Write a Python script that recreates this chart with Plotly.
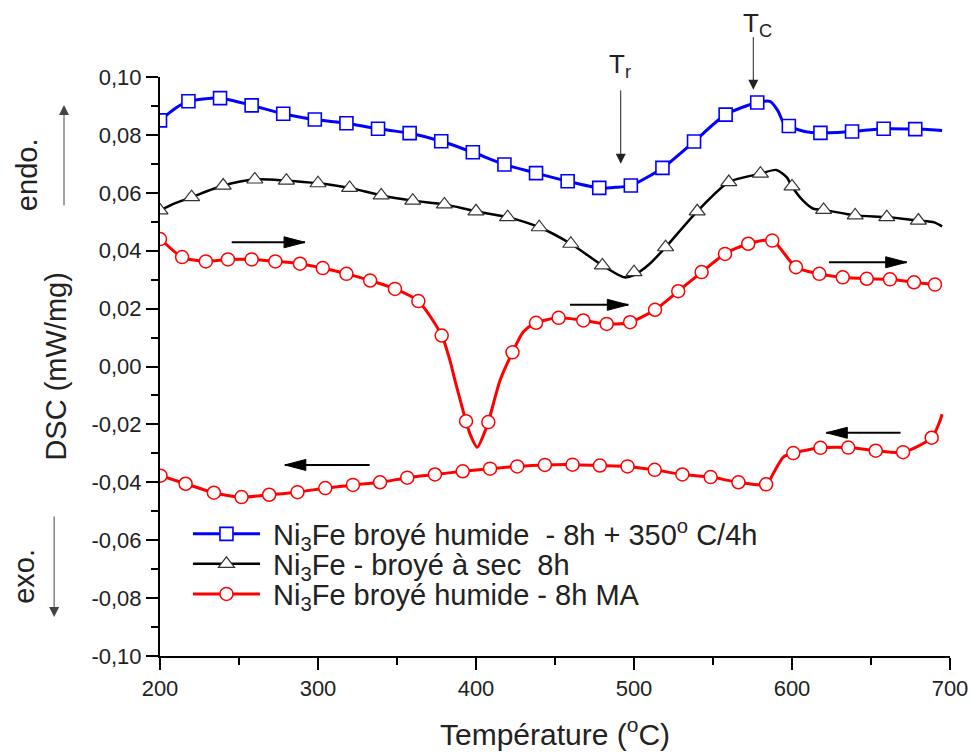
import plotly.graph_objects as go

# ---------------- data ----------------
# Blue: Ni3Fe broyé humide - 8h + 350°C/4h
T_blue_line = [200, 210, 218, 238, 258, 278, 298, 318, 338, 358, 378, 398, 418, 438, 458, 478,
               488, 498, 518, 538, 558, 578, 586, 591, 594.5, 598, 608, 618, 638, 658, 678, 688, 695]
dsc_blue_line = [0.0850, 0.0893, 0.0916, 0.0927, 0.0902, 0.0873, 0.0853, 0.0840, 0.0821, 0.0806,
                 0.0778, 0.0740, 0.0698, 0.0668, 0.0640, 0.0617, 0.0619, 0.0625, 0.0686, 0.0777,
                 0.0870, 0.0912, 0.0916, 0.0884, 0.0844, 0.0831, 0.0812, 0.0807, 0.0812, 0.0821,
                 0.0820, 0.0818, 0.0815]
T_blue_mark = [200, 218, 238, 258, 278, 298, 318, 338, 358, 378, 398, 418, 438, 458, 478, 498,
               518, 538, 558, 578, 598, 618, 638, 658, 678]
dsc_blue_mark = [0.0850, 0.0916, 0.0927, 0.0902, 0.0873, 0.0853, 0.0840, 0.0821, 0.0806, 0.0778,
                 0.0740, 0.0698, 0.0668, 0.0640, 0.0617, 0.0625, 0.0686, 0.0777, 0.0870, 0.0912,
                 0.0831, 0.0807, 0.0812, 0.0821, 0.0820]

# Black: Ni3Fe - broyé à sec 8h
T_black_line = [200, 210, 220, 240, 260, 280, 300, 320, 340, 360, 380, 400, 420, 440, 460, 480,
                494, 500, 510, 520, 540, 560, 580, 590, 596.6, 600, 607, 613.5, 620, 640, 660,
                680, 690, 695]
dsc_black_line = [0.0539, 0.0565, 0.0585, 0.0625, 0.0646, 0.0642, 0.0633, 0.0617, 0.0591, 0.0573,
                  0.0560, 0.0536, 0.0516, 0.0481, 0.0424, 0.0349, 0.0308, 0.0316, 0.0355, 0.0412,
                  0.0536, 0.0637, 0.0666, 0.0679, 0.0654, 0.0622, 0.0573, 0.0545, 0.0541, 0.0522,
                  0.0516, 0.0504, 0.0498, 0.0484]
T_black_mark = [200, 220, 240, 260, 280, 300, 320, 340, 360, 380, 400, 420, 440, 460, 480, 500,
                520, 540, 560, 580, 600, 620, 640, 660, 680]
dsc_black_mark = [0.0539, 0.0585, 0.0625, 0.0646, 0.0642, 0.0633, 0.0617, 0.0591, 0.0573, 0.0560,
                  0.0536, 0.0516, 0.0481, 0.0424, 0.0349, 0.0326, 0.0412, 0.0536, 0.0637, 0.0666,
                  0.0622, 0.0541, 0.0522, 0.0516, 0.0504]

# Red: Ni3Fe broyé humide - 8h MA (heating)
T_red_heat_line = [200, 214, 229, 243, 258, 273, 288.6, 303, 318, 333, 348.7, 363.5, 378.3, 383.5,
                   386.7, 393.7, 396.2, 400.8, 405, 407.8, 415.2, 423.1, 430, 438, 452.3, 467.9,
                   482.7, 497.5, 513.3, 528, 542.8, 557.6, 572.3, 587.5, 602.5, 617.3, 632.1,
                   647.3, 662, 677.2, 690.5, 694]
dsc_red_heat_line = [0.0442, 0.0378, 0.0363, 0.0370, 0.0370, 0.0363, 0.0355, 0.0340, 0.0320, 0.0297,
                     0.0268, 0.0226, 0.0107, 0.0021, -0.0048, -0.0189, -0.0233, -0.0279, -0.0233,
                     -0.0192, -0.0048, 0.0049, 0.0120, 0.0151, 0.0168, 0.0159, 0.0147, 0.0153,
                     0.0196, 0.0260, 0.0326, 0.0389, 0.0424, 0.0435, 0.0343, 0.0320, 0.0308,
                     0.0303, 0.0301, 0.0291, 0.0283, 0.0283]
T_red_heat_mark = [200, 214, 229, 243, 258, 273, 288.6, 303, 318, 333, 348.7, 363.5, 378.3, 393.7,
                   407.8, 423.1, 438, 452.3, 467.9, 482.7, 497.5, 513.3, 528, 542.8, 557.6, 572.3,
                   587.5, 602.5, 617.3, 632.1, 647.3, 662, 677.2, 690.5]
dsc_red_heat_mark = [0.0440, 0.0378, 0.0363, 0.0370, 0.0370, 0.0363, 0.0355, 0.0340, 0.0320, 0.0297,
                     0.0268, 0.0226, 0.0107, -0.0189, -0.0192, 0.0049, 0.0151, 0.0168, 0.0159,
                     0.0147, 0.0153, 0.0196, 0.0260, 0.0326, 0.0389, 0.0424, 0.0435, 0.0343,
                     0.0320, 0.0308, 0.0303, 0.0301, 0.0291, 0.0283]

# Red: cooling branch
T_red_cool_line = [200.3, 216.2, 234.1, 251.6, 269.1, 287, 304.6, 322.1, 339.3, 356.5, 374, 391.6,
                   408.9, 426.1, 443.6, 461.1, 478.4, 495.9, 513.1, 530.6, 548.5, 566.1, 583.6,
                   589.2, 594.5, 600.8, 618, 635.6, 653, 670.3, 688.4, 693.7, 695]
dsc_red_cool_line = [-0.0377, -0.0405, -0.0436, -0.0451, -0.0443, -0.0434, -0.0420, -0.0409,
                     -0.0400, -0.0384, -0.0373, -0.0362, -0.0353, -0.0345, -0.0340, -0.0339,
                     -0.0342, -0.0345, -0.0357, -0.0373, -0.0382, -0.0400, -0.0407, -0.0359,
                     -0.0313, -0.0299, -0.0281, -0.0280, -0.0291, -0.0296, -0.0246, -0.0187, -0.0165]
T_red_cool_mark = [200.3, 216.2, 234.1, 251.6, 269.1, 287, 304.6, 322.1, 339.3, 356.5, 374, 391.6,
                   408.9, 426.1, 443.6, 461.1, 478.4, 495.9, 513.1, 530.6, 548.5, 566.1, 583.6,
                   600.8, 618, 635.6, 653, 670.3, 688.4]
dsc_red_cool_mark = [-0.0377, -0.0405, -0.0436, -0.0451, -0.0443, -0.0434, -0.0420, -0.0409,
                     -0.0400, -0.0384, -0.0373, -0.0362, -0.0353, -0.0345, -0.0340, -0.0339,
                     -0.0342, -0.0345, -0.0357, -0.0373, -0.0382, -0.0400, -0.0407, -0.0299,
                     -0.0281, -0.0280, -0.0291, -0.0296, -0.0246]

series_names = [
    "\u00a0Ni<sub>3</sub>Fe broyé humide\u00a0 - 8h + 350<sup>o</sup> C/4h",
    "\u00a0Ni<sub>3</sub>Fe - broyé à sec\u00a0 8h",
    "\u00a0Ni<sub>3</sub>Fe broyé humide - 8h MA",
]

# direction arrows: tail T, head T, DSC level
arrow_tail_T = [245.4, 459.5, 623.4, 332.7, 668.7]
arrow_head_T = [291.8, 496.4, 672.6, 279.0, 621.7]
arrow_dsc = [0.0429, 0.0213, 0.0360, -0.0340, -0.0229]

# transition markers
trans_labels = ["T<sub>r</sub>", "T<sub>C</sub>"]
trans_T = [491.6, 575.5]
trans_tip = [0.0700, 0.0956]
trans_tail = [0.0959, 0.1143]

x_tickvals = [200, 300, 400, 500, 600, 700]
x_ticktext = ["200", "300", "400", "500", "600", "700"]
y_tickvals = [-0.10, -0.08, -0.06, -0.04, -0.02, 0.00, 0.02, 0.04, 0.06, 0.08, 0.10]
y_ticktext = ["-0,10", "-0,08", "-0,06", "-0,04", "-0,02", "0,00", "0,02", "0,04", "0,06", "0,08", "0,10"]

# ---------------- figure ----------------
FONT = "Arial, 'Liberation Sans', Helvetica, sans-serif"
fig = go.Figure()

styles = [
    dict(color="#0000ff", symbol="square-open", lw=3, msize=13, mline=1.6),
    dict(color="#000000", symbol="triangle-up", lw=2.5, msize=14, mline=1.2),
    dict(color="#ff0000", symbol="circle", lw=3, msize=13, mline=1.5),
]
lines = [
    (T_blue_line, dsc_blue_line, T_blue_mark, dsc_blue_mark, 0),
    (T_black_line, dsc_black_line, T_black_mark, dsc_black_mark, 1),
    (T_red_heat_line, dsc_red_heat_line, T_red_heat_mark, dsc_red_heat_mark, 2),
    (T_red_cool_line, dsc_red_cool_line, T_red_cool_mark, dsc_red_cool_mark, 2),
]

def marker_style(s):
    mc = s["color"]
    if s["symbol"] == "triangle-up":
        return dict(symbol="triangle-up", size=s["msize"], color="white",
                    line=dict(color="#333333", width=s["mline"]))
    if s["symbol"] == "square-open":
        return dict(symbol="square", size=s["msize"], color="white",
                    line=dict(color=mc, width=s["mline"]))
    return dict(symbol="circle", size=s["msize"], color="white",
                line=dict(color=mc, width=s["mline"]))

for tl, dl, tm, dm, si in lines:
    s = styles[si]
    fig.add_trace(go.Scatter(x=tl, y=dl, mode="lines", showlegend=False, hoverinfo="skip",
                             line=dict(color=s["color"], width=s["lw"], shape="spline", smoothing=0.7)))
    fig.add_trace(go.Scatter(x=tm, y=dm, mode="markers", showlegend=False,
                             marker=marker_style(s)))

legend_ids = ["legend", "legend2", "legend3"]
for si, name in enumerate(series_names):
    s = styles[si]
    fig.add_trace(go.Scatter(x=[None], y=[None], mode="lines+markers", name=name,
                             legend=legend_ids[si],
                             line=dict(color=s["color"], width=s["lw"]),
                             marker=marker_style(s)))

shapes = []
for t0, t1, d in zip(arrow_tail_T, arrow_head_T, arrow_dsc):
    sgn = 1 if t1 > t0 else -1
    shapes.append(dict(type="line", xref="x", yref="y", x0=t0, x1=t1, y0=d, y1=d,
                       line=dict(color="black", width=2)))
    shapes.append(dict(type="path", xref="x", yref="y", xsizemode="pixel", ysizemode="pixel",
                       xanchor=t1, yanchor=d,
                       path=f"M0,0 L{-sgn*21},5.5 L{-sgn*21},-5.5 Z",
                       fillcolor="black", line=dict(color="black", width=1)))

annotations = []
for lab, t, tip, tail in zip(trans_labels, trans_T, trans_tip, trans_tail):
    annotations.append(dict(x=t, y=tip, ax=t, ay=tail, xref="x", yref="y", axref="x", ayref="y",
                            text="", showarrow=True, arrowhead=2, arrowsize=2, arrowwidth=1,
                            arrowcolor="#222222"))
# labels above the plot area (paper y so they are not hidden off-axis)
annotations.append(dict(x=trans_T[0] - 0.5, y=1.019, xref="x", yref="paper", text=trans_labels[0],
                        showarrow=False, font=dict(size=26, family=FONT, color="#222"),
                        xanchor="center", yanchor="middle"))
annotations.append(dict(x=trans_T[1] + 2.5, y=1.090, xref="x", yref="paper", text=trans_labels[1],
                        showarrow=False, font=dict(size=26, family=FONT, color="#222"),
                        xanchor="center", yanchor="middle"))

# endo / exo indicators (outside plot area, paper coords)
annotations.append(dict(x=-0.1215, y=0.9517, xref="paper", yref="paper", ax=0, ay=102,
                        text="", showarrow=True, arrowhead=2, arrowsize=2, arrowwidth=1,
                        arrowcolor="#444444"))
annotations.append(dict(x=-0.134, y=0.0674, xref="paper", yref="paper", ax=0, ay=-102,
                        text="", showarrow=True, arrowhead=2, arrowsize=2, arrowwidth=1,
                        arrowcolor="#444444"))
annotations.append(dict(x=-0.168, y=0.831, xref="paper", yref="paper", text="endo.",
                        textangle=-90, showarrow=False, font=dict(size=29, family=FONT, color="#222"),
                        xanchor="center", yanchor="middle"))
annotations.append(dict(x=-0.172, y=0.137, xref="paper", yref="paper", text="exo.",
                        textangle=-90, showarrow=False, font=dict(size=29, family=FONT, color="#222"),
                        xanchor="center", yanchor="middle"))
annotations.append(dict(x=-0.131, y=0.499, xref="paper", yref="paper", text="DSC (mW/mg)",
                        textangle=-90, showarrow=False, font=dict(size=29, family=FONT, color="#222"),
                        xanchor="center", yanchor="middle"))
annotations.append(dict(x=0.5, y=-0.132, xref="paper", yref="paper", text="Température (<sup>o</sup>C)",
                        showarrow=False, font=dict(size=30, family=FONT, color="#222"),
                        xanchor="center", yanchor="middle"))

legend_common = dict(x=0.0354, xanchor="left", yanchor="middle", bgcolor="rgba(0,0,0,0)",
                     font=dict(size=29, family=FONT, color="#222"), itemwidth=67)

fig.update_layout(
    width=971, height=753, autosize=False,
    margin=dict(l=160, r=21, t=77, b=97),
    paper_bgcolor="white", plot_bgcolor="white",
    font=dict(family=FONT, color="#222", size=22),
    shapes=shapes, annotations=annotations,
    legend=dict(y=0.2107, **legend_common),
    legend2=dict(y=0.1590, **legend_common),
    legend3=dict(y=0.1070, **legend_common),
    xaxis=dict(range=[200, 700], tickvals=x_tickvals, ticktext=x_ticktext,
               ticks="outside", ticklen=12, tickwidth=1.5, tickcolor="black",
               minor=dict(dtick=50, tick0=200, ticks="outside", ticklen=7, tickwidth=1.5, tickcolor="black"),
               showline=True, linewidth=2, linecolor="black", showgrid=False, zeroline=False,
               automargin=False,
               tickfont=dict(size=22, family=FONT, color="#222")),
    yaxis=dict(range=[-0.1, 0.1], tickvals=y_tickvals, ticktext=y_ticktext,
               ticks="outside", ticklen=12, tickwidth=1.5, tickcolor="black",
               minor=dict(dtick=0.01, tick0=0, ticks="outside", ticklen=7, tickwidth=1.5, tickcolor="black"),
               showline=True, linewidth=2, linecolor="black", showgrid=False, zeroline=False,
               automargin=False,
               tickfont=dict(size=22, family=FONT, color="#222")),
)

fig.write_html("out.html",
               config={"displayModeBar": False, "responsive": False},
               post_script="document.body.style.margin='0px';document.body.style.overflow='hidden';")
